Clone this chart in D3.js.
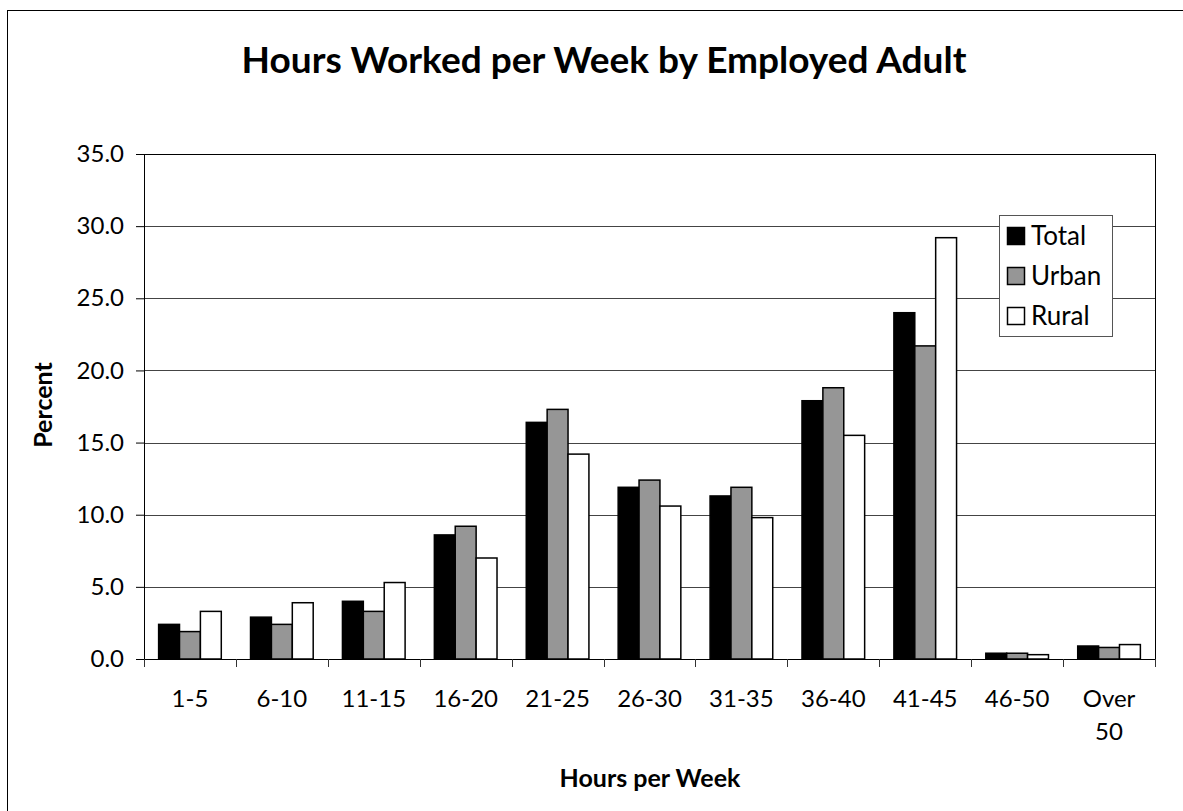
<!DOCTYPE html>
<html>
<head>
<meta charset="utf-8">
<script src="https://cdn.jsdelivr.net/npm/d3@7"></script>
<style>
  body { margin: 0; background: #fff; }
  text { font-family: Lato, "Open Sans", sans-serif; fill: #000; }
</style>
</head>
<body>
<div id="chart"></div>
<script>
// Data
const categories = ['1-5', '6-10', '11-15', '16-20', '21-25', '26-30', '31-35', '36-40', '41-45', '46-50', 'Over 50']
const seriesNames = ['Total', 'Urban', 'Rural']
const total = [2.4, 2.9, 4.0, 8.6, 16.4, 11.9, 11.3, 17.9, 24.0, 0.4, 0.9]
const urban = [1.9, 2.4, 3.3, 9.2, 17.3, 12.4, 11.9, 18.8, 21.7, 0.4, 0.8]
const rural = [3.3, 3.9, 5.3, 7.0, 14.2, 10.6, 9.8, 15.5, 29.2, 0.3, 1.0]
const yTicks = [0, 5, 10, 15, 20, 25, 30, 35]

const WIDTH = 1183
const HEIGHT = 811
const MARGIN = { top: 154, right: 28, bottom: 152, left: 144 }
const colors = { Total: '#000000', Urban: '#969696', Rural: '#ffffff' }

const svg = d3.select('#chart')
    .append('svg')
    .attr('width', WIDTH)
    .attr('height', HEIGHT)

// outer chart border (right and bottom edges fall outside the picture)
svg.append('rect')
    .attr('x', 7.5).attr('y', 10.5)
    .attr('width', 1300).attr('height', 1000)
    .attr('fill', 'none').attr('stroke', '#000').attr('stroke-width', 1)

const plotW = WIDTH - MARGIN.left - MARGIN.right
const plotH = HEIGHT - MARGIN.top - MARGIN.bottom

const x0 = d3.scaleBand().domain(categories).range([0, plotW]).padding(0)
const x1 = d3.scaleBand().domain(seriesNames).range([0, x0.bandwidth()])
    .paddingInner(0).paddingOuter(0.7)
const y = d3.scaleLinear().domain([0, 35]).range([plotH, 0])

const g = svg.append('g').attr('transform', `translate(${MARGIN.left}, ${MARGIN.top})`)

// gridlines
g.append('g')
    .selectAll('line')
    .data(yTicks.filter(d => d > 0 && d < 35))
    .enter()
    .append('line')
    .attr('x1', 0).attr('x2', plotW)
    .attr('y1', d => Math.round(y(d)) + 0.5).attr('y2', d => Math.round(y(d)) + 0.5)
    .attr('stroke', '#444').attr('stroke-width', 1)

// plot frame
g.append('rect')
    .attr('x', 0.5).attr('y', 0.5)
    .attr('width', plotW).attr('height', plotH)
    .attr('fill', 'none').attr('stroke', '#000').attr('stroke-width', 1)

// bars
const rows = categories.map((c, i) => ({ cat: c, values: [total[i], urban[i], rural[i]] }))
g.selectAll('.group')
    .data(rows)
    .enter()
    .append('g')
    .attr('class', 'group')
    .attr('transform', d => `translate(${x0(d.cat)}, 0)`)
    .selectAll('rect')
    .data(d => d.values.map((v, j) => ({ key: seriesNames[j], value: v })))
    .enter()
    .append('rect')
    .attr('x', d => x1(d.key))
    .attr('y', d => y(d.value))
    .attr('width', x1.bandwidth())
    .attr('height', d => plotH - y(d.value))
    .attr('fill', d => colors[d.key])
    .attr('stroke', '#000')
    .attr('stroke-width', 1.5)

// y axis
const yAxis = d3.axisLeft(y).tickValues(yTicks).tickSize(8).tickPadding(12).tickFormat(d3.format('.1f'))
const yG = g.append('g').call(yAxis)
yG.select('.domain').attr('stroke', '#000')
yG.selectAll('.tick line').attr('stroke', '#000')
yG.selectAll('.tick text')
    .style('font-family', 'Lato, sans-serif')
    .style('font-size', '24px')
    .attr('fill', '#000')

// x axis: ticks at category boundaries, labels centred
const xAxis = d3.axisBottom(x0).tickSize(0).tickPadding(0)
const xG = g.append('g').attr('transform', `translate(0, ${plotH})`).call(xAxis)
xG.select('.domain').attr('stroke', '#000').attr('d', `M0.5,0.5H${plotW + 0.5}`)
xG.selectAll('.tick text').remove()
xG.selectAll('.tick')
    .append('text')
    .attr('text-anchor', 'middle')
    .style('font-size', '24px')
    .selectAll('tspan')
    .data(d => d.split(' '))
    .enter()
    .append('tspan')
    .attr('x', 0)
    .attr('y', (d, i) => 48 + i * 33)
    .text(d => d)

const bounds = categories.map(c => x0(c)).concat([plotW])
xG.append('g')
    .selectAll('line')
    .data(bounds)
    .enter()
    .append('line')
    .attr('x1', d => Math.round(d) + 0.5).attr('x2', d => Math.round(d) + 0.5)
    .attr('y1', 0).attr('y2', 8)
    .attr('stroke', '#333')

// title and axis titles
svg.append('text')
    .attr('x', 604).attr('y', 73)
    .attr('text-anchor', 'middle')
    .style('font-size', '37px').style('font-weight', 700)
    .text('Hours Worked per Week by Employed Adult')

svg.append('text')
    .attr('x', 650).attr('y', 787)
    .attr('text-anchor', 'middle')
    .style('font-size', '25px').style('font-weight', 700)
    .text('Hours per Week')

svg.append('text')
    .attr('transform', 'translate(52, 405) rotate(-90)')
    .attr('text-anchor', 'middle')
    .style('font-size', '25px').style('font-weight', 700)
    .text('Percent')

// legend
const legend = svg.append('g').attr('transform', 'translate(999, 215)')
legend.append('rect')
    .attr('x', 0.5).attr('y', 0.5).attr('width', 113).attr('height', 121)
    .attr('fill', '#fff').attr('stroke', '#555').attr('stroke-width', 1)
const items = legend.selectAll('.item')
    .data(seriesNames)
    .enter()
    .append('g')
    .attr('class', 'item')
    .attr('transform', (d, i) => `translate(8, ${21 + i * 40})`)
items.append('rect')
    .attr('x', 0.5).attr('y', -8.5).attr('width', 17).attr('height', 17)
    .attr('fill', d => colors[d]).attr('stroke', '#000').attr('stroke-width', 1.5)
items.append('text')
    .attr('x', 24).attr('y', 9)
    .style('font-size', '26px')
    .text(d => d)
</script>
</body>
</html>
